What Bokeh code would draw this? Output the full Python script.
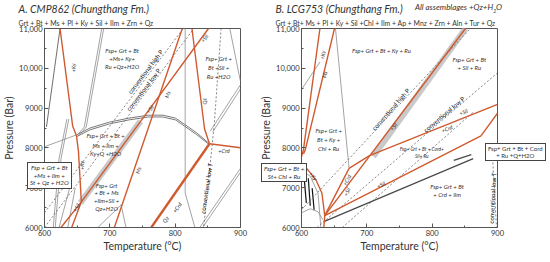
from bokeh.plotting import figure
from bokeh.models import Range1d, FixedTicker, ColumnDataSource, Title, Div
from bokeh.layouts import row
from bokeh.embed import file_html
from bokeh.resources import INLINE

# ---------------- data : panel A (CMP862) ----------------
A_orange = {
    "ky":    ([623.8, 643.1, 649.0, 652.0, 656.4], [11000, 8550, 8302, 7906, 6644]),
    "sil":   ([625.2, 656.4, 744.0, 851.0], [6000, 6644, 8599, 11000]),
    "sil2":  ([656.4, 641.6], [6644, 6000]),
    "ms":    ([810.9, 706.9], [11000, 6000]),
    "qz":    ([825.7, 845.0, 852.5], [11000, 8475, 8104]),
    "crd":   ([852.5, 900.0], [8104, 8005]),
}
A_qzcrd = ([852.5, 763.4], [8104, 6000])
A_curve_T = [649.0, 669.8, 699.5, 729.2, 758.9, 781.2, 800.5, 813.8, 833.1, 852.5]
A_curve_P = [8327, 8500, 8649, 8748, 8822, 8822, 8748, 8599, 8376, 8104]
A_curve_P2 = [8282, 8455, 8604, 8703, 8777, 8777, 8703, 8554, 8331, 8080]
A_gray = [
    ([815.3, 815.3, 830.2], [11000, 6867, 6000]),
    ([687.6, 660.9, 650.5], [11000, 8525, 8327]),
    ([690.6, 663.9, 652.5], [11000, 8525, 8300]),
    ([681.7, 717.3, 724.7], [6000, 6570, 6000]),
    ([883.6, 900.0], [11000, 9663]),
    ([900.0, 853.9], [9589, 8426]),
    ([900.0, 857.5], [9480, 8400]),
    ([837.6, 900.0], [6000, 7486]),
    ([842.0, 900.0], [6000, 7390]),
    ([600.0, 649.0], [8030, 8327]),
    ([634.2, 622.3, 613.4], [8723, 7733, 6000]),
    ([637.2, 625.3, 616.4], [8723, 7733, 6000]),
    ([640.1, 622.3], [7090, 6000]),
    ([647.0, 635.6], [6990, 6000]),
]
A_dark = [([603.0, 623.8], [8525, 11000])]
A_dash = [
    ([600.0, 812.4], [6371, 11000]),
    ([600.0, 828.7], [6000, 11000]),
    ([870.3, 859.9, 843.6], [11000, 8599, 6000]),
]
A_band = ([654.9, 747.0], [6619, 8673])

A_fields_text = ["Fsp+ Grt + Bt", "+Ms+ Ky+", "Ru +Qz+H2O",
                 "Fsp+ Grt +", "Bt +Sil +", "Ru +H2O",
                 "Fsp+ Grt + Bt +", "Ms + Ilm +", "Ky+Q +H2O",
                 "Fsp+ Grt", "+ Bt + Ms", "+Ilm+Sil +", "Qz+H2O"]
A_fields_T = [718.8, 718.8, 718.8, 866.6, 866.6, 866.6, 693.6, 693.6, 693.6, 695, 695, 695, 695]
A_fields_P = [10455, 10257, 10035, 10257, 10010, 9787, 8302, 8055, 7857, 7065, 6867, 6669, 6471]

A_rot_text = ["+Ky", "+Ky", "Ms", "Ms", "+Sil", "+Sil", "+Sil", "Qz", "Qz", "+Crd", "+Crd"]
A_rot_T = [644.6, 657.5, 788.6, 744.0, 761.9, 845.0, 649.0, 845.0, 785.6, 803.4, 874.7]
A_rot_P = [10010, 7560, 9342, 7436, 8970, 10752, 6495, 9169, 6198, 6495, 7931]
A_rot_ang = [1.65, 1.6, 1.24, 1.24, 0.93, 0.93, 1.0, 1.7, 0.96, 0.96, 0.0]

A_conv_text = ["conventional high P", "conventional low P", "conventional low T"]
A_conv_T = [754.4, 751.5, 848.0]
A_conv_P = [9911, 9465, 6990]
A_conv_ang = [0.92, 0.92, 1.42]

# ---------------- data : panel B (LCG753) ----------------
B_orange = {
    "ky":   ([628.2, 603.0, 600.0], [11000, 7956, 7783]),
    "ms":   ([650.5, 605.9, 603.0], [11000, 7956, 7850]),
    "curv": ([600.0, 610.4, 622.3, 631.2, 635.6, 634.2], [7609, 7436, 7189, 6867, 6297, 6000]),
    "diag": ([635.6, 851.0], [6297, 11000]),
    "b5":   ([672.8, 704.0, 900.0], [7486, 7807, 9094]),
    "b6":   ([672.8, 635.6], [7486, 6297]),
    "b7":   ([635.6, 874.7, 900.0], [6297, 8302, 8871]),
}
B_gray = [
    ([652.0, 672.8], [11000, 7486]),
    ([600.0, 628.2], [9465, 10158]),
    ([600.0, 613.4, 625.2, 632.7], [6372, 6470, 6396, 6198]),
    ([600.0, 613.4, 625.2, 629.7], [7436, 7288, 6867, 6000]),
]
B_dark = [([634.2, 862.8], [6149, 7733]), ([833.1, 859.9], [7684, 7832])]
B_path = [([604.5, 607.4], [7164, 6619]), ([610.4, 613.4], [7238, 6545]), ([616.3, 619.3], [6990, 6446])]
B_dash = [
    ([600.0, 858.4], [6446, 11000]),
    ([623.8, 900.0], [6000, 9886]),
    ([662.4, 862.8], [6000, 8896]),
    ([892.5, 898.5], [7733, 6000]),
]
B_band = ([709.9, 851.0], [7783, 11000])

B_fields_text = ["Fsp+ Grt + Bt + Ky + Ru",
                 "Fsp+ Grt + Bt", "+ Sil + Ru",
                 "Fsp+ Grt +", "Bt + Ky +", "Chl + Ru",
                 "Fsp+ Grt + Bt", "+ Crd + Ilm"]
B_fields_T = [722.5, 856.9, 856.9, 641.6, 641.6, 641.6, 822.8, 822.8]
B_fields_P = [10455, 10233, 10010, 8426, 8203, 7980, 7040, 6817]
B_small_text = ["Fsp+ Grt + Bt + Cord+", "Sil+ Ru"]
B_small_T = [784.1, 784.1]
B_small_P = [7980, 7807]

B_rot_text = ["+Ky", "Ms", "+Ky", "+Crd", "+Sil", "+Sil", "+Sil", "+Crd", "+Sil"]
B_rot_T = [632.7, 635.6, 617.8, 669.8, 669.8, 721.8, 848.0, 822.8, 741.1]
B_rot_P = [10332, 9837, 7288, 7189, 6892, 7065, 8896, 8475, 8525]
B_rot_ang = [1.43, 1.33, -0.9, 1.09, 1.09, 0.47, 0.37, 0.37, 0.92]

B_conv_text = ["conventional high P", "conventional low P", "conventional low T"]
B_conv_T = [736.6, 818.3, 892.5]
B_conv_P = [8970, 8847, 6743]
B_conv_ang = [0.85, 0.70, 1.52]

x_ticks = [600, 700, 800, 900]
x_minor = [650, 750, 850]
y_ticks = [6000, 7000, 8000, 9000, 10000, 11000]
y_minor = [6500, 7500, 8500, 9500, 10500]
y_tick_labels = {11000: "11,000", 10000: "10,000", 9000: "9000", 8000: "8000", 7000: "7000", 6000: "6000"}

ORANGE = "#cf5a30"
GRAY = "#8c8c8c"
DARK = "#4a4a4a"
TXT = "#333333"
FONT = "Lato"


def base_fig(width, left, right, main, sub, title_offset):
    p = figure(width=width, height=254, x_range=Range1d(600, 900), y_range=Range1d(6000, 11000),
               output_backend="svg", toolbar_location=None,
               min_border_left=left, min_border_right=right, min_border_top=28, min_border_bottom=0)
    p.grid.visible = False
    p.outline_line_color = "#555555"
    xa = p.xaxis[0]
    xa.ticker = FixedTicker(ticks=x_ticks, minor_ticks=x_minor)
    ya = p.yaxis[0]
    ya.ticker = FixedTicker(ticks=y_ticks, minor_ticks=y_minor)
    ya.major_label_overrides = y_tick_labels
    for ax in (xa, ya):
        ax.axis_line_color = "#555555"
        ax.major_tick_in = 4
        ax.major_tick_out = 0
        ax.minor_tick_in = 2
        ax.minor_tick_out = 0
        ax.major_tick_line_color = "#555555"
        ax.minor_tick_line_color = "#555555"
        ax.major_label_text_font = FONT
        ax.major_label_text_font_size = "7.5px"
        ax.major_label_text_color = TXT
        ax.major_label_standoff = 2
        ax.axis_label_text_font = FONT
        ax.axis_label_text_font_size = "10.5px"
        ax.axis_label_text_font_style = "normal"
        ax.axis_label_text_color = TXT
        ax.axis_label_standoff = 1
    xa.axis_label = "Temperature (\u00b0C)"
    ya.axis_label = "Pressure (Bar)"
    p.add_layout(Title(text=sub, text_font=FONT, text_font_size="6.9px", text_font_style="normal",
                       text_color=TXT, align="left", offset=title_offset, standoff=4), "above")
    p.add_layout(Title(text=main, text_font=FONT, text_font_size="10.5px", text_font_style="italic",
                       text_color=TXT, align="left", offset=title_offset, standoff=0), "above")
    return p


def draw_lines(p, lines, color, width, dash="solid"):
    p.multi_line(xs=[l[0] for l in lines], ys=[l[1] for l in lines],
                 line_color=color, line_width=width, line_dash=dash)


def draw_text(p, T, P, text, angle, size, style="italic", color=TXT):
    src = ColumnDataSource(dict(x=T, y=P, t=text, a=angle))
    p.text(x="x", y="y", text="t", angle="a", source=src, text_align="center",
           text_baseline="middle", text_font_size=size, text_font_style=style,
           text_color=color, text_font={"value": FONT})


def box_html(lines, left, top, style="italic", size=6.3):
    return ('<div style="position:absolute;left:%dpx;top:%dpx;border:0.8px solid #444;'
            'background:white;padding:1px 2px;font-family:Lato;font-size:%spx;font-style:%s;'
            'color:#333;line-height:1.2;text-align:center;white-space:nowrap;">%s</div>'
            ) % (left, top, size, style, "<br>".join(lines))


# ---------------- panel A ----------------
pa = base_fig(257, 38, 17, "A. CMP862 (Chungthang Fm.)",
              "Grt + Bt + Ms + Pl + Ky + Sil + Ilm +  Zrn + Qz", -26)
pa.line(A_band[0], A_band[1], line_color="#c9c9c9", line_width=6)
draw_lines(pa, A_gray, GRAY, 0.8)
draw_lines(pa, A_dark, DARK, 0.8)
pa.line(A_curve_T, A_curve_P, line_color="#7a7a7a", line_width=1.0)
pa.line(A_curve_T, A_curve_P2, line_color="#7a7a7a", line_width=1.0)
draw_lines(pa, A_dash, "#666666", 0.8, "2 2")
draw_lines(pa, list(A_orange.values()), ORANGE, 1.4)
pa.line(A_qzcrd[0], A_qzcrd[1], line_color=ORANGE, line_width=2.4)
draw_text(pa, A_fields_T, A_fields_P, A_fields_text, [0] * len(A_fields_text), "6px")
draw_text(pa, A_rot_T, A_rot_P, A_rot_text, A_rot_ang, "5.5px")
draw_text(pa, A_conv_T, A_conv_P, A_conv_text, A_conv_ang, "6.2px", style="normal", color="#111111")

# ---------------- panel B ----------------
pb = base_fig(270, 38, 30, "B. LCG753 (Chungthang Fm.)",
              "Grt + Bt+ Ms + Pl + Ky + Sil +Chl + Ilm + Ap + Mnz + Zrn +  Aln + Tur + Qz", -26)
pb.line(B_band[0], B_band[1], line_color="#c9c9c9", line_width=6)
draw_lines(pb, B_gray, GRAY, 0.8)
draw_lines(pb, B_dark, DARK, 1.3)
draw_lines(pb, B_path, "#111111", 1.2)
draw_lines(pb, B_dash, "#666666", 0.8, "2 2")
draw_lines(pb, list(B_orange.values()), ORANGE, 1.4)
draw_text(pb, B_fields_T, B_fields_P, B_fields_text, [0] * len(B_fields_text), "6px")
draw_text(pb, B_small_T, B_small_P, B_small_text, [0, 0], "4.8px")
draw_text(pb, B_rot_T, B_rot_P, B_rot_text, B_rot_ang, "5.5px")
draw_text(pb, B_conv_T, B_conv_P, B_conv_text, B_conv_ang, "6.2px", style="normal", color="#111111")

overlay_html = (
    box_html(["Fsp + Grt + Bt", "+Ms + Ilm +", "St + Qz + H2O"], 22, 157)
    + box_html(["Fsp+ Grt + Bt +", "St+ Chl + Ru"], 256, 158)
    + box_html(["Fsp+ Grt + Bt + Cord", "+ Ru +Q+H2O"], 480, 138, style="normal", size=6.0)
    + '<div style="position:absolute;left:410px;top:-3px;font-family:Lato;font-size:8px;'
      'font-style:italic;color:#333;white-space:nowrap;">All assemblages +Qz+H'
      '<sub style="font-size:5px">2</sub>O</div>'
)
overlay = Div(text=overlay_html, width=1, height=1,
              styles={"position": "absolute", "left": "0px", "top": "0px",
                      "overflow": "visible", "z-index": "10"})

layout = row(pa, pb, overlay)
open("out.html", "w").write(file_html(layout, INLINE))
